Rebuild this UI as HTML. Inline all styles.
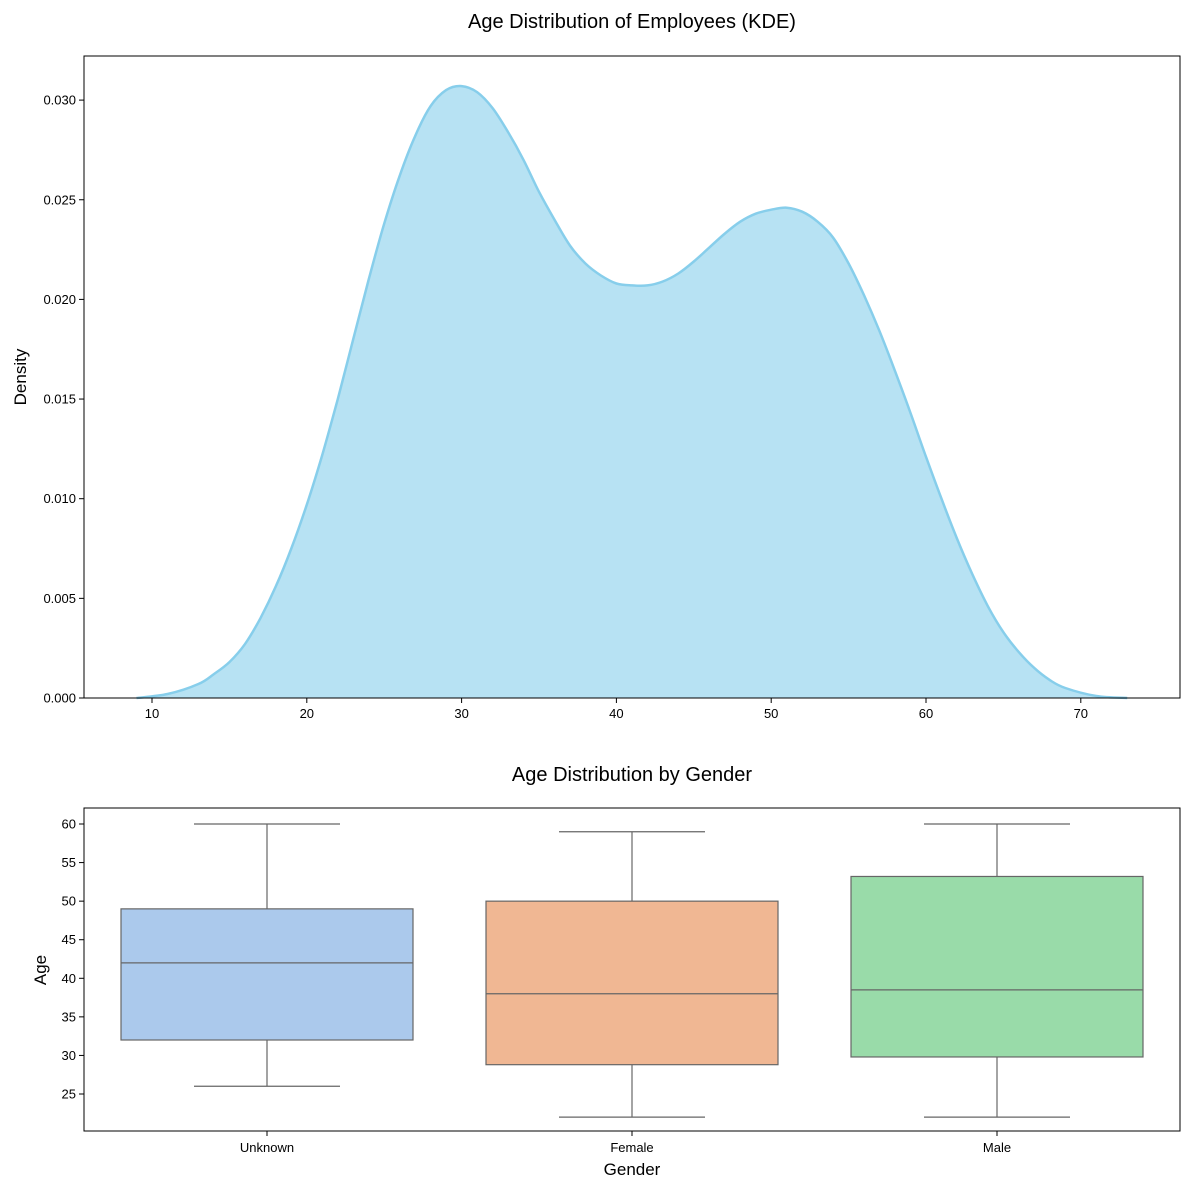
<!DOCTYPE html>
<html><head><meta charset="utf-8"><style>
body{margin:0;background:#fff}
svg{display:block;font-family:"Liberation Sans","DejaVu Sans",sans-serif}
</style></head><body>
<svg id="c" width="1189" height="1189" viewBox="0 0 1189 1189"></svg>
<script>
const kdeAges=[9,11,13,14,15,16,17,18,19,20,21,22,23,24,25,26,27,28,29,30,31,32,33,34,35,36,37,38,39,40,41,42,43,44,45,46,47,48,49,50,51,52,53,54,55,56,57,58,59,60,61,62,63,64,65,66,67,68,69,71,73];
const kdeDensity=[0,0.0002,0.0007,0.0012,0.0018,0.0027,0.0040,0.0056,0.0075,0.0097,0.0122,0.0150,0.0180,0.0210,0.0238,0.0262,0.0282,0.0297,0.0305,0.0307,0.0304,0.0296,0.0284,0.0270,0.0254,0.0240,0.0227,0.0218,0.0212,0.0208,0.0207,0.0207,0.0209,0.0213,0.0219,0.0226,0.0233,0.0239,0.0243,0.0245,0.0246,0.0244,0.0239,0.0231,0.0218,0.0202,0.0184,0.0164,0.0143,0.0121,0.0100,0.0080,0.0062,0.0046,0.0033,0.0023,0.0015,0.0009,0.0005,0.0001,0];
const xTicks=[10,20,30,40,50,60,70];
const yTicks=[0,0.005,0.010,0.015,0.020,0.025,0.030];
const genders=["Unknown","Female","Male"];
const wLow=[26,22,22];
const q1=[32,28.8,29.8];
const med=[42,38,38.5];
const q3=[49,50,53.2];
const wHigh=[60,59,60];
const boxColors=["#abc9ec","#f0b793","#99dba9"];
const ageTicks=[25,30,35,40,45,50,55,60];

const NS="http://www.w3.org/2000/svg";
const svg=document.getElementById('c');
function mk(t,a,txt){const e=document.createElementNS(NS,t);for(const k in a)e.setAttribute(k,a[k]);if(txt!==undefined)e.textContent=txt;svg.appendChild(e);return e;}

const L=84,R=1180,T1=56,B1=698;
const x1=a=>152+(a-10)*15.48;
const y1=d=>B1-d*19930;
const pts=kdeAges.map((a,i)=>[x1(a),y1(kdeDensity[i])]);
function smooth(P){let d="M"+P[0][0].toFixed(1)+","+P[0][1].toFixed(1);
 for(let i=0;i<P.length-1;i++){const p0=P[Math.max(0,i-1)],p1=P[i],p2=P[i+1],p3=P[Math.min(P.length-1,i+2)];
  const c1=[p1[0]+(p2[0]-p0[0])/6,p1[1]+(p2[1]-p0[1])/6],c2=[p2[0]-(p3[0]-p1[0])/6,p2[1]-(p3[1]-p1[1])/6];
  d+=" C"+c1[0].toFixed(1)+","+c1[1].toFixed(1)+" "+c2[0].toFixed(1)+","+c2[1].toFixed(1)+" "+p2[0].toFixed(1)+","+p2[1].toFixed(1);}
 return d;}
const sp=smooth(pts);
let area=mk('path',{d:sp+" L"+x1(kdeAges[kdeAges.length-1])+","+y1(0)+" L"+x1(kdeAges[0])+","+y1(0)+" Z",fill:"#87ceeb","fill-opacity":0.6,stroke:"none"});

let line=mk('path',{d:sp,fill:"none",stroke:"#87ceeb","stroke-width":2.5});

let f1=mk('rect',{x:L,y:T1,width:R-L,height:B1-T1,fill:"none",stroke:"#000","stroke-width":1});

xTicks.forEach(v=>{mk('line',{x1:x1(v),x2:x1(v),y1:B1,y2:B1+5,stroke:"#000"});
 let t=mk('text',{x:x1(v),y:B1+20,"font-size":13,"text-anchor":"middle"},v);
 });
yTicks.forEach(v=>{mk('line',{x1:L-5,x2:L,y1:y1(v),y2:y1(v),stroke:"#000"});
 let t=mk('text',{x:L-8,y:y1(v)+4.5,"font-size":13,"text-anchor":"end"},v.toFixed(3));
 });
let tt=mk('text',{x:632,y:28,"font-size":20,"text-anchor":"middle"},"Age Distribution of Employees (KDE)");

let yl=mk('text',{x:26,y:377,"font-size":17,"text-anchor":"middle",transform:"rotate(-90 26 377)"},"Density");


const T2=808,B2=1131;
const y2=a=>1094-(a-25)*7.714;
const xc=i=>267+i*365;
const bw=146,cw=73;
genders.forEach((g,i)=>{
 const c=xc(i);
 mk('line',{x1:c,x2:c,y1:y2(wLow[i]),y2:y2(q1[i]),stroke:"#666","stroke-width":1.2});
 mk('line',{x1:c,x2:c,y1:y2(q3[i]),y2:y2(wHigh[i]),stroke:"#666","stroke-width":1.2});
 mk('line',{x1:c-cw,x2:c+cw,y1:y2(wLow[i]),y2:y2(wLow[i]),stroke:"#666","stroke-width":1.2});
 mk('line',{x1:c-cw,x2:c+cw,y1:y2(wHigh[i]),y2:y2(wHigh[i]),stroke:"#666","stroke-width":1.2});
 let b=mk('rect',{x:c-bw,y:y2(q3[i]),width:bw*2,height:y2(q1[i])-y2(q3[i]),fill:boxColors[i],stroke:"#666","stroke-width":1.2});
 
 mk('line',{x1:c-bw,x2:c+bw,y1:y2(med[i]),y2:y2(med[i]),stroke:"#666","stroke-width":1.2});
 mk('line',{x1:c,x2:c,y1:B2,y2:B2+5,stroke:"#000"});
 let t=mk('text',{x:c,y:B2+21,"font-size":13,"text-anchor":"middle"},g);
 
});
let f2=mk('rect',{x:L,y:T2,width:R-L,height:B2-T2,fill:"none",stroke:"#000","stroke-width":1});

ageTicks.forEach(v=>{mk('line',{x1:L-5,x2:L,y1:y2(v),y2:y2(v),stroke:"#000"});
 let t=mk('text',{x:L-8,y:y2(v)+4.5,"font-size":13,"text-anchor":"end"},v);
 });
let t2=mk('text',{x:632,y:781,"font-size":20,"text-anchor":"middle"},"Age Distribution by Gender");

let yl2=mk('text',{x:46,y:970,"font-size":17,"text-anchor":"middle",transform:"rotate(-90 46 970)"},"Age");

let xl2=mk('text',{x:632,y:1175,"font-size":17,"text-anchor":"middle"},"Gender");

</script>
</body></html>
